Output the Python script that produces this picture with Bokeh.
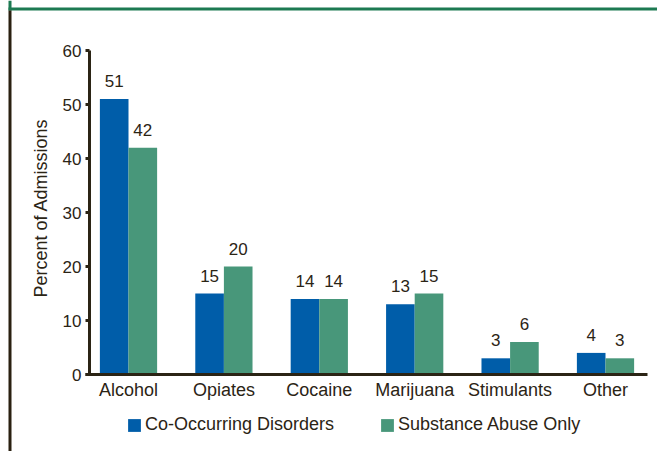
import math
from bokeh.plotting import figure
from bokeh.models import (ColumnDataSource, Range1d, LabelSet, Label,
                          Legend, LegendItem, BoxAnnotation)
from bokeh.core.properties import value
from bokeh.transform import dodge
from bokeh.embed import file_html
from bokeh.resources import INLINE

# ---------------- data ----------------
categories = ["Alcohol", "Opiates", "Cocaine", "Marijuana", "Stimulants", "Other"]
co_occurring = [51, 15, 14, 13, 3, 4]
substance_only = [42, 20, 14, 15, 6, 3]
series_names = ["Co-Occurring Disorders", "Substance Abuse Only"]
y_ticks = [0, 10, 20, 30, 40, 50, 60]
y_label = "Percent of Admissions"

# ---------------- style / layout ----------------
BLUE = "#005da9"
GREEN = "#48977a"
TEXT = "#2b2415"
FRAME_GREEN = "#1d7a52"
FRAME_DARK = "#2a2010"
FONT = "Liberation Sans"

W, H = 657, 451
X0_PX, X_STEP_PX = 128.0, 95.4      # pixel of first category centre, px per category
Y0_PX, Y_UNIT_PX = 374.0, 5.4       # pixel of value 0, px per unit
AXIS_X_PX = 89.0


def xd(px):
    return (px - X0_PX) / X_STEP_PX


def yd(py):
    return (Y0_PX - py) / Y_UNIT_PX


idx = list(range(len(categories)))
src = ColumnDataSource(dict(
    x=idx,
    cat=categories,
    co=co_occurring,
    sa=substance_only,
    co_lbl=[str(v) for v in co_occurring],
    sa_lbl=[str(v) for v in substance_only],
))
tick_src = ColumnDataSource(dict(y=y_ticks, txt=[str(t) for t in y_ticks]))

p = figure(width=W, height=H, output_backend="svg", toolbar_location=None,
           x_range=Range1d(xd(0), xd(W)), y_range=Range1d(yd(H), yd(0)),
           x_axis_location=None, y_axis_location=None,
           min_border=0, min_border_left=0, min_border_right=0,
           min_border_top=0, min_border_bottom=0)
p.outline_line_color = None
p.grid.visible = False
p.background_fill_color = "white"
p.border_fill_color = "white"

# bars
r1 = p.vbar(x=dodge("x", -0.15, range=p.x_range), top="co", width=0.3,
            source=src, fill_color=BLUE, line_color=None)
r2 = p.vbar(x=dodge("x", 0.15, range=p.x_range), top="sa", width=0.3,
            source=src, fill_color=GREEN, line_color=None)

# value labels
for col, off in (("co", -0.15), ("sa", 0.15)):
    p.add_layout(LabelSet(x=dodge("x", off, range=p.x_range), y=col,
                          text=col + "_lbl", source=src, text_align="center",
                          text_baseline="alphabetic", y_offset=12,
                          text_font=value(FONT), text_font_size="17px",
                          text_color=TEXT))

# axes (drawn in the frame)
ax = xd(AXIS_X_PX)
p.segment(x0=[ax], y0=[y_ticks[0]], x1=[ax], y1=[y_ticks[-1]],
          line_width=3, line_color=TEXT)
p.segment(x0=[xd(85)], y0=[0], x1=[xd(647)], y1=[0],
          line_width=3, line_color=TEXT)
p.segment(x0=xd(85), y0="y", x1=ax, y1="y", source=tick_src,
          line_width=3, line_color=TEXT)
p.add_layout(LabelSet(x=xd(81), y="y", text="txt", source=tick_src,
                      text_align="right", text_baseline="middle",
                      text_font=value(FONT), text_font_size="17px",
                      text_color=TEXT))
p.add_layout(LabelSet(x="x", y=0, text="cat", source=src, y_offset=-5,
                      text_align="center", text_baseline="top",
                      text_font=value(FONT), text_font_size="18px",
                      text_color=TEXT))
p.add_layout(Label(x=xd(40.5), y=yd(207.5), text=y_label, angle=math.pi / 2,
                   text_align="center", text_baseline="middle",
                   text_font=FONT, text_font_size="18px", text_color=TEXT))

# legend
legend = Legend(items=[LegendItem(label=series_names[0], renderers=[r1]),
                       LegendItem(label=series_names[1], renderers=[r2])],
                orientation="horizontal", location=(126, 16),
                glyph_width=16, glyph_height=16, label_standoff=3, spacing=45,
                padding=0, margin=0, border_line_color=None,
                background_fill_alpha=0,
                label_text_font=FONT, label_text_font_size="18px",
                label_text_color=TEXT)
p.add_layout(legend, "center")

# page frame lines
for l, r, t, b, c in ((8, W, 7, 10, FRAME_GREEN),
                      (8, 11, 0, 10, FRAME_GREEN),
                      (8, 11, 10, H, FRAME_DARK)):
    p.add_layout(BoxAnnotation(left=l, right=r, top=t, bottom=b,
                               left_units="canvas", right_units="canvas",
                               top_units="canvas", bottom_units="canvas",
                               fill_color=c, fill_alpha=1, line_color=None,
                               level="overlay"))

open("out.html", "w").write(file_html(p, INLINE))
